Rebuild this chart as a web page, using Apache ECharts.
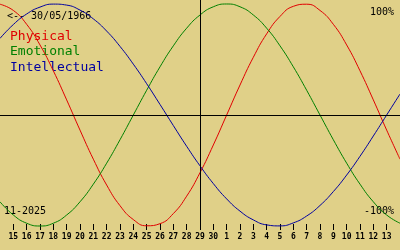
<!DOCTYPE html>
<html>
<head>
<meta charset="utf-8">
<script src="https://cdn.jsdelivr.net/npm/echarts@6/dist/echarts.min.js"></script>
<style>
html,body{margin:0;padding:0;background:#e0d088;}
#c{width:400px;height:250px;}
</style>
</head>
<body>
<div id="c"></div>
<script>
// Day labels (first and last are off-screen padding days, hidden)
var days = ['14','15','16','17','18','19','20','21','22','23','24','25','26','27','28','29','30',
            '1','2','3','4','5','6','7','8','9','10','11','12','13','14'];
var physical = [0.998,0.942,0.817,0.631,0.398,0.136,-0.136,-0.398,-0.631,-0.817,-0.942,-0.998,
                -0.979,-0.888,-0.731,-0.520,-0.270,0,0.270,0.520,0.731,0.888,0.979,0.998,0.942,
                0.817,0.631,0.398,0.136,-0.136,-0.398];
var emotional = [-0.782,-0.901,-0.975,-1,-0.975,-0.901,-0.782,-0.623,-0.434,-0.223,0,0.223,0.434,
                 0.623,0.782,0.901,0.975,1,0.975,0.901,0.782,0.623,0.434,0.223,0,-0.223,-0.434,
                 -0.623,-0.782,-0.901,-0.975];
var intellectual = [0.690,0.815,0.910,0.972,0.999,0.990,0.945,0.866,0.756,0.618,0.458,0.282,0.095,
                    -0.095,-0.282,-0.458,-0.618,-0.756,-0.866,-0.945,-0.990,-0.999,-0.972,-0.910,
                    -0.815,-0.690,-0.541,-0.372,-0.189,0,0.189];
var todayIndex = 15;
var birthText = '<-- 30/05/1966';
var monthText = '11-2025';
var seriesNames = ['Physical','Emotional','Intellectual'];
var colors = ['#e00000','#008000','#0000a0'];

var chart = echarts.init(document.getElementById('c'), null, {renderer:'canvas'});
var last = days.length - 1;
var mono = '"DejaVu Sans Mono", "Liberation Mono", monospace';
chart.setOption({
  backgroundColor:'#e0d088',
  animation:false,
  grid:{left:0,right:0,top:0,bottom:20},
  xAxis:{
    type:'category', data:days, boundaryGap:false,
    axisLine:{show:false, onZero:false},
    axisTick:{show:true, inside:true, length:6, lineStyle:{color:'#000',width:1},
      interval:function(i){return i>0 && i<last;}},
    axisLabel:{show:true, margin:3, color:'#000', fontFamily:mono, fontSize:8, fontWeight:'bold',
      interval:function(i){return i>0 && i<last;}},
    splitLine:{show:false}
  },
  yAxis:{type:'value', min:-1.036, max:1.036, show:false, splitLine:{show:false}},
  series:[
    {name:seriesNames[0], type:'line', data:physical, smooth:true, symbol:'none', clip:false,
      lineStyle:{color:colors[0],width:1},
      markLine:{silent:true, symbol:'none', label:{show:false},
        lineStyle:{color:'#000',width:1,type:'solid'},
        data:[{yAxis:0},{xAxis:todayIndex}]}},
    {name:seriesNames[1], type:'line', data:emotional, smooth:true, symbol:'none', clip:false,
      lineStyle:{color:colors[1],width:1}},
    {name:seriesNames[2], type:'line', data:intellectual, smooth:true, symbol:'none', clip:false,
      lineStyle:{color:colors[2],width:1}}
  ],
  graphic:[
    {type:'text', left:7, top:11, style:{text:birthText, fill:'#000', font:'10px '+mono}},
    {type:'text', left:10, top:30, style:{text:seriesNames[0], fill:colors[0], font:'13px '+mono}},
    {type:'text', left:10, top:45, style:{text:seriesNames[1], fill:colors[1], font:'13px '+mono}},
    {type:'text', left:10, top:61, style:{text:seriesNames[2], fill:colors[2], font:'13px '+mono}},
    {type:'text', right:6, top:7, style:{text:'100%', fill:'#000', font:'10px '+mono}},
    {type:'text', right:6, top:206, style:{text:'-100%', fill:'#000', font:'10px '+mono}},
    {type:'text', left:4, top:206, style:{text:monthText, fill:'#000', font:'10px '+mono}}
  ]
});
</script>
</body>
</html>
